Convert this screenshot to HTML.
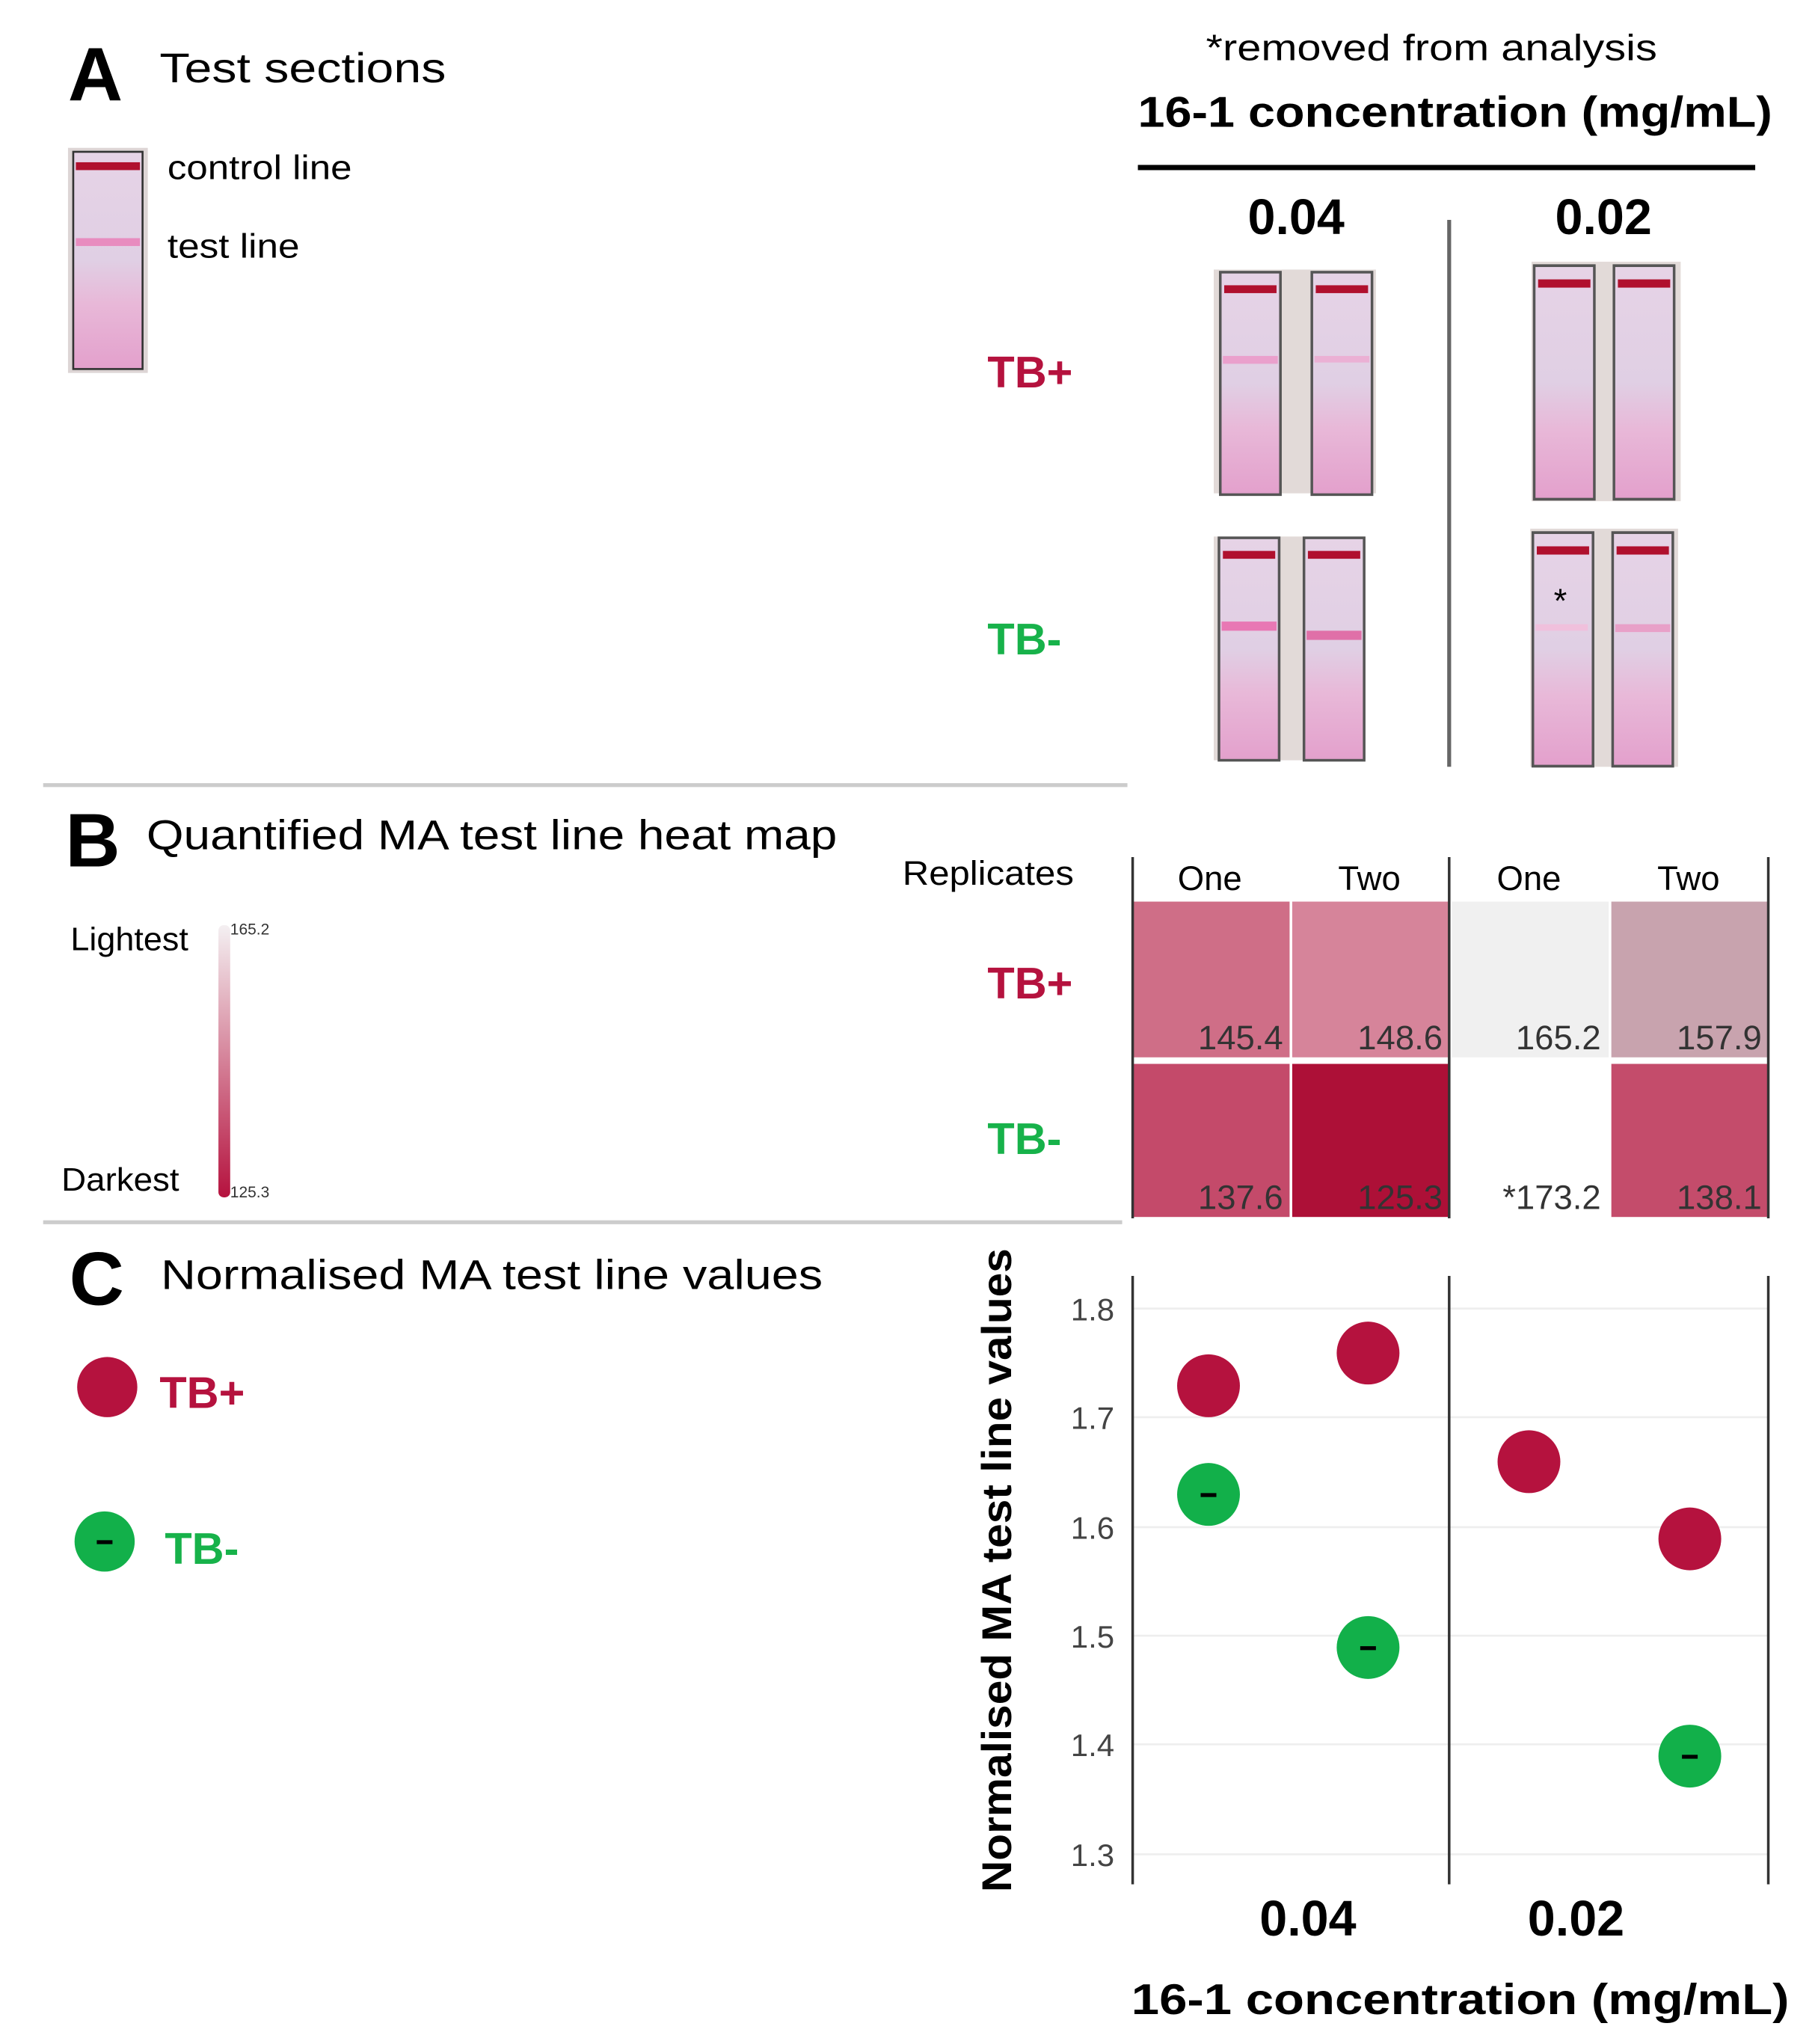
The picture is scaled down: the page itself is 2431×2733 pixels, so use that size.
<!DOCTYPE html>
<html><head><meta charset="utf-8"><style>html,body{margin:0;padding:0;background:#fff}svg{display:block}</style></head><body>
<svg width="2431" height="2733" viewBox="0 0 1390 1562" preserveAspectRatio="none" xmlns="http://www.w3.org/2000/svg" font-family="Liberation Sans, sans-serif">
<defs>
<linearGradient id="sg" x1="0" y1="0" x2="0" y2="1">
<stop offset="0" stop-color="#e6d3e6"/><stop offset="0.5" stop-color="#e0cfe4"/><stop offset="0.7" stop-color="#e8b8d8"/><stop offset="1" stop-color="#e3a0cc"/></linearGradient>
<linearGradient id="cb" x1="0" y1="0" x2="0" y2="1"><stop offset="0" stop-color="#f4f0f2"/><stop offset="1" stop-color="#b5123e"/></linearGradient>
<g id="strip">
<rect x="0" y="0" width="46" height="170" fill="url(#sg)" stroke="#555" stroke-width="2"/>
<rect x="3" y="10" width="40" height="6" fill="#b0102e"/>
</g>
</defs>
<!-- A -->
<text x="52" y="77" font-size="58" font-weight="bold">A</text>
<text x="122" y="63" font-size="32" textLength="219" lengthAdjust="spacingAndGlyphs">Test sections</text>
<rect x="52" y="113" width="61" height="172" fill="#ddd5d5"/>
<rect x="56" y="116" width="53" height="166" fill="url(#sg)" stroke="#333" stroke-width="1.5"/>
<rect x="58" y="124" width="49" height="6" fill="#b0102e"/>
<rect x="58" y="182" width="49" height="6" fill="#e88cbf"/>
<text x="128" y="137" font-size="26" textLength="141" lengthAdjust="spacingAndGlyphs">control line</text>
<text x="128" y="197" font-size="26" textLength="101" lengthAdjust="spacingAndGlyphs">test line</text>
<text x="922" y="46" font-size="28" textLength="345" lengthAdjust="spacingAndGlyphs">*removed from analysis</text>
<text x="870" y="97" font-size="33" font-weight="bold" textLength="485" lengthAdjust="spacingAndGlyphs">16-1 concentration (mg/mL)</text>
<line x1="870" y1="128" x2="1342" y2="128" stroke="#000" stroke-width="4"/>
<text x="991" y="179" font-size="38" font-weight="bold" text-anchor="middle">0.04</text>
<text x="1226" y="179" font-size="38" font-weight="bold" text-anchor="middle">0.02</text>
<line x1="1108" y1="168" x2="1108" y2="586" stroke="#666" stroke-width="3"/>
<text x="755" y="296" font-size="34" font-weight="bold" fill="#b5123e">TB+</text>
<text x="755" y="500" font-size="34" font-weight="bold" fill="#17b24a">TB-</text>
<!-- strips -->
<rect x="928" y="206" width="124" height="171" fill="#e2dad8"/>
<use href="#strip" x="933" y="208"/><use href="#strip" x="1003" y="208"/>
<rect x="935" y="272" width="42" height="6" fill="#eaa0cc"/><rect x="1005" y="272" width="42" height="5" fill="#ebb0d4"/>
<rect x="1171" y="200" width="114" height="183" fill="#e2dad8"/>
<g transform="translate(1173,203) scale(1,1.05)"><use href="#strip" x="0" y="0"/><use href="#strip" x="61" y="0"/></g>
<rect x="928" y="410" width="116" height="171" fill="#e2dad8"/>
<use href="#strip" x="932" y="411"/><use href="#strip" x="997" y="411"/>
<rect x="934" y="475" width="42" height="7" fill="#e878b4"/><rect x="999" y="482" width="42" height="7" fill="#e070a8"/>
<rect x="1170" y="404" width="113" height="182" fill="#e2dad8"/>
<g transform="translate(1172,407) scale(1,1.05)"><use href="#strip" x="0" y="0"/><use href="#strip" x="61" y="0"/></g>
<rect x="1174" y="477" width="40" height="5" fill="#f0c0dc"/><rect x="1235" y="477" width="42" height="6" fill="#e8a0c8"/>
<text x="1193" y="468" font-size="26" text-anchor="middle">*</text>
<line x1="33" y1="600" x2="862" y2="600" stroke="#ccc" stroke-width="3"/>
<!-- B -->
<text x="50" y="662" font-size="58" font-weight="bold">B</text>
<text x="112" y="649" font-size="32" textLength="528" lengthAdjust="spacingAndGlyphs">Quantified MA test line heat map</text>
<text x="690" y="676" font-size="26" textLength="131" lengthAdjust="spacingAndGlyphs">Replicates</text>
<text x="925" y="680" font-size="26" text-anchor="middle">One</text>
<text x="1047" y="680" font-size="26" text-anchor="middle">Two</text>
<text x="1169" y="680" font-size="26" text-anchor="middle">One</text>
<text x="1291" y="680" font-size="26" text-anchor="middle">Two</text>
<rect x="866" y="689" width="120" height="119" fill="#cf6e87"/>
<rect x="988" y="689" width="120" height="119" fill="#d6849a"/>
<rect x="1110" y="689" width="120" height="119" fill="#f0f0f0"/>
<rect x="1232" y="689" width="120" height="119" fill="#c8a3ae"/>
<rect x="866" y="813" width="120" height="117" fill="#c44a6a"/>
<rect x="988" y="813" width="120" height="117" fill="#ad1037"/>
<rect x="1232" y="813" width="120" height="117" fill="#c44c6b"/>
<g font-size="26" fill="#333" text-anchor="end">
<text x="981" y="802">145.4</text><text x="1103" y="802">148.6</text><text x="1224" y="802">165.2</text><text x="1347" y="802">157.9</text>
<text x="981" y="924">137.6</text><text x="1103" y="924">125.3</text><text x="1224" y="924">*173.2</text><text x="1347" y="924">138.1</text>
</g>
<line x1="866" y1="655" x2="866" y2="931" stroke="#333" stroke-width="2"/>
<line x1="1108" y1="655" x2="1108" y2="931" stroke="#333" stroke-width="2"/>
<line x1="1352" y1="655" x2="1352" y2="931" stroke="#333" stroke-width="2"/>
<text x="755" y="763" font-size="34" font-weight="bold" fill="#b5123e">TB+</text>
<text x="755" y="882" font-size="34" font-weight="bold" fill="#17b24a">TB-</text>
<rect x="167" y="707" width="9" height="208" rx="4" fill="url(#cb)"/>
<text x="176" y="714" font-size="12" fill="#333">165.2</text>
<text x="176" y="915" font-size="12" fill="#333">125.3</text>
<text x="54" y="726" font-size="25" textLength="90" lengthAdjust="spacingAndGlyphs">Lightest</text>
<text x="47" y="910" font-size="25" textLength="90" lengthAdjust="spacingAndGlyphs">Darkest</text>
<line x1="33" y1="934" x2="858" y2="934" stroke="#ccc" stroke-width="3"/>
<!-- C -->
<text x="53" y="997" font-size="58" font-weight="bold">C</text>
<text x="123" y="985" font-size="32" textLength="506" lengthAdjust="spacingAndGlyphs">Normalised MA test line values</text>
<circle cx="82" cy="1060" r="23" fill="#b5123e"/>
<text x="122" y="1076" font-size="34" font-weight="bold" fill="#b5123e">TB+</text>
<circle cx="80" cy="1178" r="23" fill="#12b04a"/><rect x="74" y="1177" width="12" height="3" fill="#000"/>
<text x="126" y="1195" font-size="34" font-weight="bold" fill="#17b24a">TB-</text>
<g stroke="#eee" stroke-width="1.5">
<line x1="866" y1="1000" x2="1352" y2="1000"/><line x1="866" y1="1083" x2="1352" y2="1083"/><line x1="866" y1="1167" x2="1352" y2="1167"/><line x1="866" y1="1250" x2="1352" y2="1250"/><line x1="866" y1="1333" x2="1352" y2="1333"/><line x1="866" y1="1417" x2="1352" y2="1417"/>
</g>
<g font-size="24" fill="#444" text-anchor="end">
<text x="852" y="1009">1.8</text><text x="852" y="1092">1.7</text><text x="852" y="1176">1.6</text><text x="852" y="1259">1.5</text><text x="852" y="1342">1.4</text><text x="852" y="1426">1.3</text>
</g>
<g stroke="#333" stroke-width="2">
<line x1="866" y1="975" x2="866" y2="1440"/><line x1="1108" y1="975" x2="1108" y2="1440"/><line x1="1352" y1="975" x2="1352" y2="1440"/>
</g>
<g fill="#b5123e">
<circle cx="924" cy="1059" r="24"/><circle cx="1046" cy="1034" r="24"/><circle cx="1169" cy="1117" r="24"/><circle cx="1292" cy="1176" r="24"/>
</g>
<g fill="#12b04a">
<circle cx="924" cy="1142" r="24"/><circle cx="1046" cy="1259" r="24"/><circle cx="1292" cy="1342" r="24"/>
</g>
<g fill="#000"><rect x="918" y="1141" width="12" height="3"/><rect x="1040" y="1258" width="12" height="3"/><rect x="1286" y="1341" width="12" height="3"/></g>
<text transform="translate(773,1200) rotate(-90)" font-size="32" font-weight="bold" text-anchor="middle" textLength="492" lengthAdjust="spacingAndGlyphs">Normalised MA test line values</text>
<text x="1000" y="1479" font-size="38" font-weight="bold" text-anchor="middle">0.04</text>
<text x="1205" y="1479" font-size="38" font-weight="bold" text-anchor="middle">0.02</text>
<text x="865" y="1539" font-size="33" font-weight="bold" textLength="503" lengthAdjust="spacingAndGlyphs">16-1 concentration  (mg/mL)</text>
</svg>
</body></html>
